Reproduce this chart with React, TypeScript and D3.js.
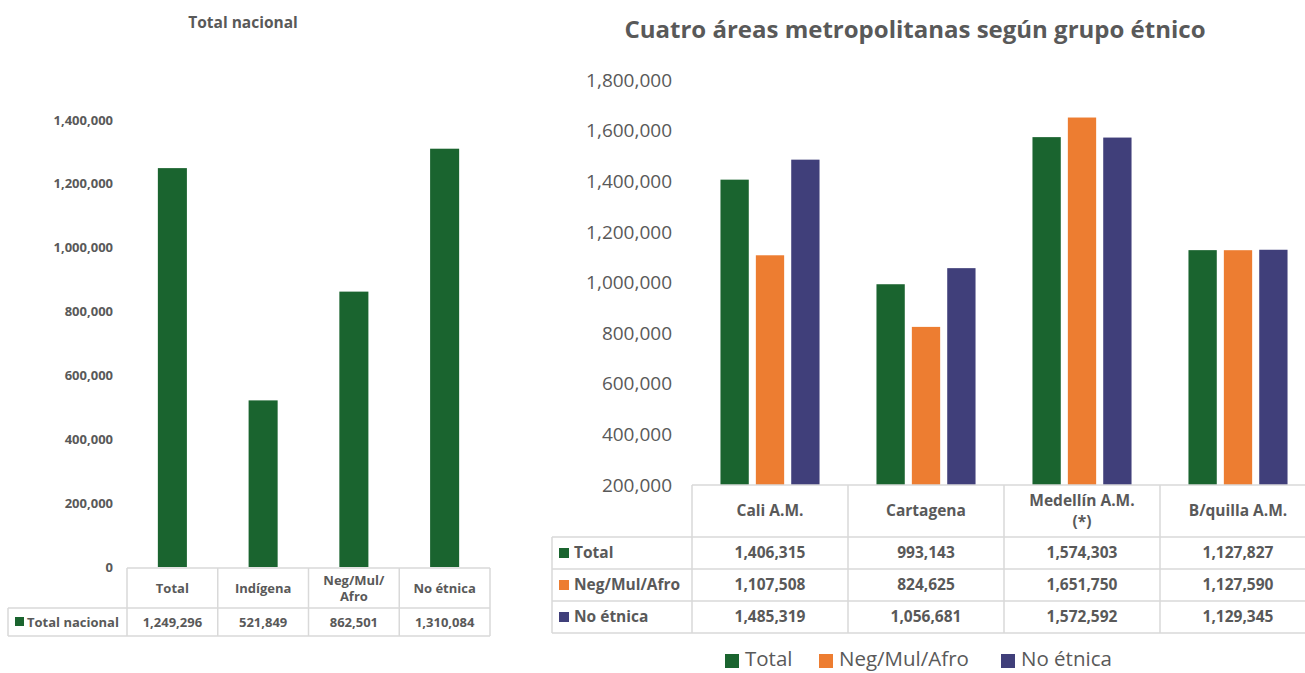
import React from "react";
import * as d3 from "d3";

const leftCategories = ["Total", "Indígena", "Neg/Mul/Afro", "No étnica"];
const leftCategoryLines = [["Total"], ["Indígena"], ["Neg/Mul/", "Afro"], ["No étnica"]];
const leftValues = [1249296, 521849, 862501, 1310084];
const leftSeriesName = "Total nacional";
const leftTicks = [0, 200000, 400000, 600000, 800000, 1000000, 1200000, 1400000];

const rightCategories = ["Cali A.M.", "Cartagena", "Medellín A.M. (*)", "B/quilla A.M."];
const rightCategoryLines = [["Cali A.M."], ["Cartagena"], ["Medellín A.M.", "(*)"], ["B/quilla A.M."]];
const seriesNames = ["Total", "Neg/Mul/Afro", "No étnica"];
const totalValues = [1406315, 993143, 1574303, 1127827];
const negValues = [1107508, 824625, 1651750, 1127590];
const noEtnicaValues = [1485319, 1056681, 1572592, 1129345];
const rightTicks = [200000, 400000, 600000, 800000, 1000000, 1200000, 1400000, 1600000, 1800000];

const GREEN = "#1a642f";
const ORANGE = "#ED7D31";
const PURPLE = "#403F7A";
const seriesColors = [GREEN, ORANGE, PURPLE];
const TEXT = "#595959";
const GRID = "#d9d9d9";
const FONT = "'Open Sans', sans-serif";

const fmt = d3.format(",");

export default function App() {
  // Left chart
  const ly = d3.scaleLinear().domain([0, 1400000]).range([567, 120]);
  const lx = d3.scaleBand<string>().domain(leftCategories).range([127, 490]).paddingInner(0.68).paddingOuter(0.34);
  const lStep = lx.step();
  const lTableLeft = 127;
  const lColEdges = leftCategories.map((_, i) => lTableLeft + i * lStep);
  const lTableRight = lTableLeft + 4 * lStep;

  // Right chart
  const ry = d3.scaleLinear().domain([200000, 1800000]).range([485, 80]);
  const rx0 = d3.scaleBand<string>().domain(rightCategories).range([692, 1316]).paddingInner(0.365).paddingOuter(0.1825);
  const rx1 = d3.scaleBand<string>().domain(seriesNames).range([0, rx0.bandwidth()]).paddingInner(0.2);
  const rStep = rx0.step();
  const rTableLeft = 692;
  const rSeriesValues = [totalValues, negValues, noEtnicaValues];
  const rRows = [537, 569, 601, 633];

  return (
    <svg width={1305} height={673} style={{ position: "absolute", left: 0, top: 0, fontFamily: FONT }}>
      <rect width={1305} height={673} fill="#fff" />
      {/* LEFT CHART */}
      <text x={243} y={23} dy="0.35em" textAnchor="middle" fontSize={15.5} fontWeight={700} fill={TEXT}>{leftSeriesName}</text>
      {leftTicks.map((t) => (
        <text key={t} x={113} y={ly(t)} dy="0.35em" textAnchor="end" fontSize={13} fontWeight={700} fill={TEXT}>{fmt(t)}</text>
      ))}
      {leftCategories.map((c, i) => (
        <rect key={c} x={lx(c)} y={ly(leftValues[i])} width={lx.bandwidth()} height={ly(0) - ly(leftValues[i])} fill={GREEN} />
      ))}
      {/* left table */}
      <g stroke={GRID} strokeWidth={1.5} fill="none">
        <line x1={lTableLeft} x2={lTableRight} y1={568} y2={568} />
        <line x1={8} x2={lTableRight} y1={608} y2={608} />
        <line x1={8} x2={lTableRight} y1={636} y2={636} />
        <line x1={8} x2={8} y1={608} y2={636} />
        {lColEdges.map((x, i) => (
          <line key={i} x1={x} x2={x} y1={568} y2={636} />
        ))}
        <line x1={lTableRight} x2={lTableRight} y1={568} y2={636} />
      </g>
      {leftCategoryLines.map((lines, i) => {
        const cx = lColEdges[i] + lStep / 2;
        const cy = 588;
        return (
          <text key={i} x={cx} textAnchor="middle" fontSize={13} fontWeight={700} fill={TEXT}>
            {lines.map((l, j) => (
              <tspan key={j} x={cx} y={cy + (j - (lines.length - 1) / 2) * 16} dy="0.35em">{l}</tspan>
            ))}
          </text>
        );
      })}
      <rect x={15} y={617} width={9} height={9} fill={GREEN} />
      <text x={27} y={622} dy="0.35em" fontSize={13} fontWeight={700} fill={TEXT}>{leftSeriesName}</text>
      {leftValues.map((v, i) => (
        <text key={i} x={lColEdges[i] + lStep / 2} y={622} dy="0.35em" textAnchor="middle" fontSize={13} fontWeight={700} fill={TEXT}>{fmt(v)}</text>
      ))}

      {/* RIGHT CHART */}
      <text x={915} y={30} dy="0.35em" textAnchor="middle" fontSize={24} fontWeight={700} fill={TEXT}>Cuatro áreas metropolitanas según grupo étnico</text>
      {rightTicks.map((t) => (
        <text key={t} x={672} y={ry(t)} dy="0.35em" textAnchor="end" fontSize={19} fill={TEXT}>{fmt(t)}</text>
      ))}
      {rightCategories.map((c, i) => (
        <g key={c} transform={`translate(${rx0(c)},0)`}>
          {seriesNames.map((s, k) => (
            <rect key={s} x={rx1(s)} y={ry(rSeriesValues[k][i])} width={rx1.bandwidth()} height={ry(200000) - ry(rSeriesValues[k][i])} fill={seriesColors[k]} />
          ))}
        </g>
      ))}
      {/* right table */}
      <g stroke={GRID} strokeWidth={1.5} fill="none">
        <line x1={rTableLeft} x2={1316} y1={485} y2={485} />
        {rRows.map((y) => (
          <line key={y} x1={552} x2={1316} y1={y} y2={y} />
        ))}
        <line x1={552} x2={552} y1={537} y2={633} />
        {rightCategories.map((_, i) => (
          <line key={i} x1={rTableLeft + i * rStep} x2={rTableLeft + i * rStep} y1={485} y2={633} />
        ))}
      </g>
      {rightCategoryLines.map((lines, i) => {
        const cx = rTableLeft + i * rStep + rStep / 2;
        const cy = 511;
        return (
          <text key={i} x={cx} textAnchor="middle" fontSize={15.5} fontWeight={700} fill={TEXT}>
            {lines.map((l, j) => (
              <tspan key={j} x={cx} y={cy + (j - (lines.length - 1) / 2) * 21} dy="0.35em">{l}</tspan>
            ))}
          </text>
        );
      })}
      {seriesNames.map((s, k) => {
        const cy = (rRows[k] + rRows[k + 1]) / 2;
        return (
          <g key={s}>
            <rect x={559} y={cy - 5} width={10} height={10} fill={seriesColors[k]} />
            <text x={574} y={cy} dy="0.35em" fontSize={15.5} fontWeight={700} fill={TEXT}>{s}</text>
            {rSeriesValues[k].map((v, i) => (
              <text key={i} x={rTableLeft + i * rStep + rStep / 2} y={cy} dy="0.35em" textAnchor="middle" fontSize={15.5} fontWeight={700} fill={TEXT}>{fmt(v)}</text>
            ))}
          </g>
        );
      })}
      {/* legend */}
      {seriesNames.map((s, k) => {
        const xs = [725, 819, 1001];
        return (
          <g key={s}>
            <rect x={xs[k]} y={654} width={14} height={14} fill={seriesColors[k]} />
            <text x={xs[k] + 20} y={659} dy="0.35em" fontSize={20.5} fill={TEXT}>{s}</text>
          </g>
        );
      })}
    </svg>
  );
}
